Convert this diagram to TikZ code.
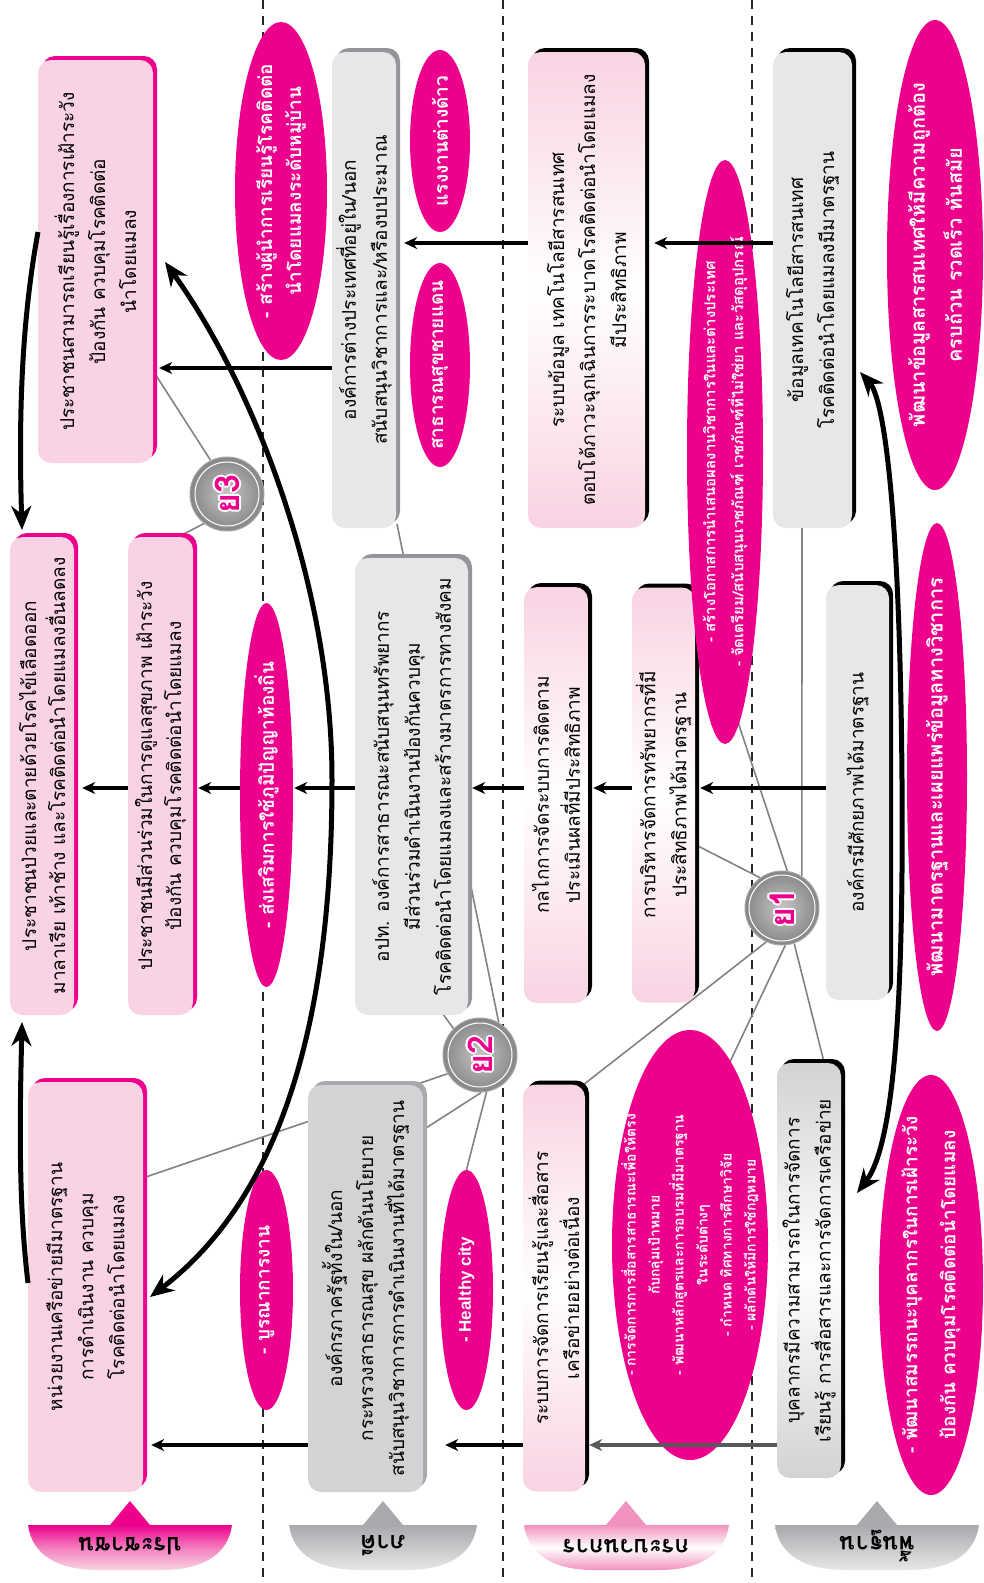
\documentclass[tikz,border=0pt]{standalone}
\usepackage{fontspec}
\setmainfont{Loma}[Script=Thai]
\newfontfamily\latinsf{Liberation Sans}
\usetikzlibrary{arrows.meta,shapes.geometric,shadows}
\definecolor{mag}{HTML}{EC008C}
\definecolor{lpink}{HTML}{F9D3E3}
\definecolor{mpink}{HTML}{F192BE}
\definecolor{lgray}{HTML}{E6E7E8}
\definecolor{mgray}{HTML}{D1D3D4}
\definecolor{dgray}{HTML}{A7A9AC}
\definecolor{sgray}{HTML}{939598}
\definecolor{lngray}{HTML}{808285}
\definecolor{agray}{HTML}{58595B}
\pgfdeclarelayer{bg}
\pgfsetlayers{bg,main}
\tikzset{
  bx/.style={rectangle, rounded corners=13pt, inner sep=0pt},
  pbx/.style={bx, fill=lpink, drop shadow={shadow xshift=4pt,shadow yshift=4pt,fill=mag,opacity=1}},
  gbx/.style={bx, fill=lgray, drop shadow={shadow xshift=4pt,shadow yshift=4pt,fill=sgray,opacity=1}},
  kbx/.style={bx, fill=lgray, drop shadow={shadow xshift=4pt,shadow yshift=4pt,fill=black,opacity=1}},
  cbx/.style={bx, top color=lpink, bottom color=lpink, middle color=white, drop shadow={shadow xshift=4pt,shadow yshift=4pt,fill=black,opacity=1}},
  wbx/.style={bx, top color=mgray, bottom color=mgray, middle color=white, drop shadow={shadow xshift=4pt,shadow yshift=4pt,fill=black,opacity=1}},
  dbx/.style={bx, fill=mgray, drop shadow={shadow xshift=4pt,shadow yshift=4pt,fill=dgray,opacity=1}},
  txt/.style={rotate=90, align=center, inner sep=0pt, font=\fontsize{19}{31}\selectfont},
  ell/.style={ellipse, fill=mag, inner sep=0pt},
  etx/.style={rotate=90, align=center, inner sep=0pt, text=white, font=\bfseries\fontsize{19}{29}\selectfont},
  stx/.style={etx, font=\bfseries\fontsize{15}{28}\selectfont},
  btx/.style={etx, font=\bfseries\fontsize{14}{24}\selectfont},
  badge/.style={circle, minimum size=74pt, inner sep=0pt, inner color=gray!45, outer color=gray!95, draw=gray!70, line width=1pt},
  bdt/.style={rotate=90, inner sep=0pt, text=mag, font=\bfseries\fontsize{34}{34}\selectfont},
  bdo/.style={bdt, text=white},
  lbl/.style={rotate=180, inner sep=0pt, font=\bfseries\fontsize{24}{24}\selectfont},
  arr/.style={line width=3.2pt, -{Stealth[length=13pt,width=12pt]}},
  big/.style={line width=5pt, -{Stealth[length=24pt,width=20pt]}},
  bigd/.style={line width=5pt, {Stealth[length=24pt,width=20pt]}-{Stealth[length=24pt,width=20pt]}},
  gl/.style={draw=lngray, line width=1.6pt},
  sep/.style={line width=2.2pt, dash pattern=on 9pt off 7pt, black!85}
}
\begin{document}
\begin{tikzpicture}[x=1pt,y=-1pt]
\useasboundingbox (0,0) rectangle (984,1583);

% ---------- column 1 : people
\node[ell, minimum width=92pt, minimum height=338pt] (EA0) at (281,191) {};
\node[etx] (EA0t) at (EA0) {- สร้างผู้นำการเรียนรู้โรคติดต่อ\\นำโดยแมลงระดับหมู่บ้าน};
\node[pbx, minimum width=115pt, minimum height=403pt] (A1) at (95.5,261.5) {};
\node[txt] (A1t) at (A1) {ประชาชนสามารถเรียนรู้เรื่องการเฝ้าระวัง\\ป้องกัน ควบคุมโรคติดต่อ\\นำโดยแมลง};
\node[pbx, minimum width=64pt, minimum height=478pt] (A2) at (42,776) {};
\node[txt, font=\fontsize{19}{29}\selectfont] (A2t) at (A2) {ประชาชนป่วยและตายด้วยโรคไข้เลือดออก\\มาลาเรีย เท้าช้าง และโรคติดต่อนำโดยแมลงอื่นลดลง};
\node[pbx, minimum width=65pt, minimum height=478pt] (A3) at (160.5,776) {};
\node[txt, font=\fontsize{19}{29}\selectfont] (A3t) at (A3) {ประชาชนมีส่วนร่วมในการดูแลสุขภาพ เฝ้าระวัง\\ป้องกัน ควบคุมโรคติดต่อนำโดยแมลง};
\node[pbx, minimum width=115pt, minimum height=410pt] (A4) at (85.5,1287) {};
\node[txt] (A4t) at (A4) {หน่วยงานเครือข่ายมีมาตรฐาน\\การดำเนินงาน ควบคุม\\โรคติดต่อนำโดยแมลง};
\node[ell, minimum width=53pt, minimum height=384pt] (EA1) at (266.5,795) {};
\node[etx] (EA1t) at (EA1) {- ส่งเสริมการใช้ภูมิปัญญาท้องถิ่น};
\node[ell, minimum width=53pt, minimum height=240pt] (EA4) at (266.5,1290) {};
\node[etx] (EA4t) at (EA4) {- บูรณาการงาน};

% ---------- column 2 : partners
\node[gbx, minimum width=64pt, minimum height=476pt] (B1) at (364,290) {};
\node[txt] (B1t) at (B1) {องค์การต่างประเทศที่อยู่ใน/นอก\\สนับสนุนวิชาการและ/หรืองบประมาณ};
\node[ell, minimum width=60pt, minimum height=182pt] (EB1) at (440,141) {};
\node[etx] (EB1t) at (EB1) {แรงงานต่างด้าว};
\node[ell, minimum width=60pt, minimum height=204pt] (EB2) at (440,365) {};
\node[etx] (EB2t) at (EB2) {สาธารณสุขชายแดน};
\node[gbx, minimum width=113pt, minimum height=457pt] (B2) at (411.5,786.5) {};
\node[txt] (B2t) at (B2) {อปท. องค์การสาธารณะสนับสนุนทรัพยากร\\มีส่วนร่วมดำเนินงานป้องกันควบคุม\\โรคติดต่อนำโดยแมลงและสร้างมาตรการทางสังคม};
\node[dbx, minimum width=115pt, minimum height=407pt] (B3) at (365.5,1288.5) {};
\node[txt] (B3t) at (B3) {องค์กรภาครัฐทั้งใน/นอก\\กระทรวงสาธารณสุข ผลักดันนโยบาย\\สนับสนุนวิชาการการดำเนินงานที่ได้มาตรฐาน};
\node[ell, minimum width=53pt, minimum height=240pt] (EB3) at (466.5,1290) {};
\node[etx, font=\latinsf\bfseries\fontsize{17}{20}\selectfont] (EB3t) at (EB3) {- Healthy city};

% ---------- column 3 : process
\node[cbx, minimum width=117pt, minimum height=476pt] (C1) at (586.5,290) {};
\node[txt] (C1t) at (C1) {ระบบข้อมูล เทคโนโลยีสารสนเทศ\\ตอบโต้ภาวะฉุกเฉินการระบาดโรคติดต่อนำโดยแมลง\\มีประสิทธิภาพ};
\node[cbx, minimum width=64pt, minimum height=416pt] (C2) at (556,795) {};
\node[txt] (C2t) at (C2) {กลไกการจัดระบบการติดตาม\\ประเมินผลที่มีประสิทธิภาพ};
\node[cbx, minimum width=63pt, minimum height=415pt] (C3) at (663.5,795) {};
\node[txt] (C3t) at (C3) {การบริหารจัดการทรัพยากรที่มี\\ประสิทธิภาพได้มาตรฐาน};
\node[ell, minimum width=76pt, minimum height=584pt] (EC1) at (725,452) {};
\node[stx] (EC1t) at (EC1) {- สร้างโอกาสการนำเสนอผลงานวิชาการในและต่างประเทศ\\- จัดเตรียม/สนับสนุนเวชภัณฑ์ เวชภัณฑ์ที่ไม่ใช่ยา และวัสดุอุปกรณ์};
\node[cbx, minimum width=62pt, minimum height=407pt] (C4) at (554,1288) {};
\node[txt] (C4t) at (C4) {ระบบการจัดการเรียนรู้และสื่อสาร\\เครือข่ายอย่างต่อเนื่อง};
\node[ell, minimum width=156pt, minimum height=430pt] (EC4) at (690,1245) {};
\node[btx] (EC4t) at (EC4) {- การจัดการการสื่อสารสาธารณะเพื่อให้ตรง\\กับกลุ่มเป้าหมาย\\- พัฒนาหลักสูตรและการอบรมที่มีมาตรฐาน\\ในระดับต่างๆ\\- กำหนด ทิศทางการศึกษาวิจัย\\- ผลักดันให้มีการใช้กฎหมาย};

% ---------- column 4 : foundation
\node[kbx, minimum width=79pt, minimum height=476pt] (D1) at (812.5,290) {};
\node[txt] (D1t) at (D1) {ข้อมูลเทคโนโลยีสารสนเทศ\\โรคติดต่อนำโดยแมลงมีมาตรฐาน};
\node[ell, minimum width=96pt, minimum height=470pt] (ED1) at (935,255) {};
\node[etx, font=\bfseries\fontsize{20}{37}\selectfont] (ED1t) at (ED1) {พัฒนาข้อมูลสารสนเทศให้มีความถูกต้อง\\ครบถ้วน รวดเร็ว ทันสมัย};
\node[kbx, minimum width=63pt, minimum height=415pt] (D2) at (857.5,792.5) {};
\node[txt] (D2t) at (D2) {องค์กรมีศักยภาพได้มาตรฐาน};
\node[ell, minimum width=60pt, minimum height=508pt] (ED2) at (937,777) {};
\node[etx, font=\bfseries\fontsize{20}{29}\selectfont] (ED2t) at (ED2) {พัฒนามาตรฐานและเผยแพร่ข้อมูลทางวิชาการ};
\node[wbx, minimum width=64pt, minimum height=415pt] (D3) at (809,1270.5) {};
\node[txt] (D3t) at (D3) {บุคลากรมีความสามารถในการจัดการ\\เรียนรู้ การสื่อสารและการจัดการเครือข่าย};
\node[ell, minimum width=104pt, minimum height=420pt] (ED3) at (931,1285) {};
\node[etx, font=\bfseries\fontsize{19}{38}\selectfont] (ED3t) at (ED3) {- พัฒนาสมรรถนะบุคลากรในการเฝ้าระวัง\\ป้องกัน ควบคุมโรคติดต่อนำโดยแมลง};

% ---------- badges (magenta label with white outline)
\node[badge] (Y3) at (227,494) {};
\draw[white, line width=1pt] (Y3) circle (32);
\foreach \a in {0,45,...,315} \node[bdo] (Y3o\a) at ([shift={(\a:2pt)}]Y3) {ย3};
\node[bdt] (Y3t) at (Y3) {ย3};
\node[badge] (Y2) at (480,1055) {};
\draw[white, line width=1pt] (Y2) circle (32);
\foreach \a in {0,45,...,315} \node[bdo] (Y2o\a) at ([shift={(\a:2pt)}]Y2) {ย2};
\node[bdt] (Y2t) at (Y2) {ย2};
\node[badge] (Y1) at (782,908) {};
\draw[white, line width=1pt] (Y1) circle (33);
\foreach \a in {0,45,...,315} \node[bdo] (Y1o\a) at ([shift={(\a:2pt)}]Y1) {ย1};
\node[bdt] (Y1t) at (Y1) {ย1};

% ---------- attach points
\coordinate (r1) at (0,243);
\coordinate (r1b) at (0,368);
\coordinate (r2) at (0,788);
\coordinate (r3) at (0,1445);
\coordinate (a1p) at (150,366);
\coordinate (a3p) at (178,537);
\coordinate (b1p) at (397,524);
\coordinate (b2p) at (440,1010);
\coordinate (a4p) at (140,1179);
\coordinate (b3p) at (426,1128);
\coordinate (c3p) at (696,845);
\coordinate (ec1p) at (738,722);
\coordinate (d1p) at (802,524);
\coordinate (c4p) at (583,1085);
\coordinate (ec4p) at (728,1066);
\coordinate (d3p) at (824,1062);

% ---------- background: separators and badge links
\begin{pgfonlayer}{bg}
\draw[sep] (263,0) -- (263,1583);
\draw[sep] (503,0) -- (503,1583);
\draw[sep] (752,0) -- (752,1583);
\draw[gl] (Y3.116) -- (a1p);
\draw[gl] (Y3.232) -- (a3p);
\draw[gl] (Y2.60) -- (b1p);
\draw[gl] (Y2.135) -- (b2p);
\draw[gl] (Y2.210) -- (a4p);
\draw[gl] (Y2.272) -- (b3p);
\draw[gl] (Y2.280) -- (EB3.north);
\draw[gl] (Y1.126) -- (c3p);
\draw[gl] (Y1.82) -- (ec1p);
\draw[gl] (Y1.58) -- (d1p);
\draw[gl] (Y1.245) -- (c4p);
\draw[gl] (Y1.275) -- (ec4p);
\draw[gl] (Y1.289) -- (d3p);
\end{pgfonlayer}

% ---------- horizontal arrows
\draw[arr, shorten >=9pt] (D1.west |- r1) -- (C1.east |- r1);
\draw[arr, shorten >=8pt] (C1.west |- r1) -- (B1.east |- r1);
\draw[arr, shorten >=6pt] (B1.west |- r1b) -- (A1.east |- r1b);
\draw[arr, shorten >=5pt] (D2.west |- r2) -- (C3.east |- r2);
\draw[arr, shorten >=5pt] (C3.west |- r2) -- (C2.east |- r2);
\draw[arr, shorten >=4pt] (C2.west |- r2) -- (B2.east |- r2);
\draw[arr, shorten >=1pt] (B2.west |- r2) -- (EA1.east |- r2);
\draw[arr, shorten >=5pt] (EA1.west |- r2) -- (A3.east |- r2);
\draw[arr, shorten >=8pt] (A3.west |- r2) -- (A2.east |- r2);
\draw[arr, agray, shorten >=4pt] (D3.west |- r3) -- (C4.east |- r3);
\draw[arr, shorten >=22pt] (C4.west |- r3) -- (B3.east |- r3);
\draw[arr, shorten >=8pt] (B3.west |- r3) -- (A4.east |- r3);

% ---------- big curved arrows
\coordinate (s1) at (38,232);
\coordinate (e1) at (22,530);
\draw[big] (s1) .. controls (20,330) and (19,430) .. (e1);
\coordinate (s2) at (28,1283);
\coordinate (e2) at (22,1022);
\draw[big] (s2) .. controls (18,1200) and (20,1110) .. (e2);
\coordinate (la1) at (165,262);
\coordinate (lam) at (332,780);
\coordinate (la2) at (150,1297);
\draw[bigd] (la1) .. controls (250,380) and (332,580) .. (lam) .. controls (332,1000) and (290,1190) .. (la2);
\coordinate (ra1) at (860,372);
\coordinate (ram) at (902,780);
\coordinate (ra2) at (857,1193);
\draw[bigd] (ra1) .. controls (885,400) and (900,520) .. (ram) .. controls (904,1040) and (890,1150) .. (ra2);

% ---------- perspective labels
\fill[mag] (110,1525) -- (130,1501) -- (150,1525) -- cycle;
\shade[top color=mag, bottom color=lpink, middle color=lpink!60!mag] (28,1525) -- (232,1525) .. controls (228,1555) and (202,1570) .. (162,1570) -- (98,1570) .. controls (58,1570) and (32,1555) .. (28,1525) -- cycle;
\node[lbl] (L1) at (130,1546) {ประชาชน};
\fill[dgray] (363,1525) -- (383,1501) -- (403,1525) -- cycle;
\shade[top color=dgray, bottom color=lgray] (289,1525) -- (477,1525) .. controls (473,1555) and (447,1570) .. (407,1570) -- (359,1570) .. controls (319,1570) and (293,1555) .. (289,1525) -- cycle;
\node[lbl] (L2) at (383,1546) {ภาคี};
\fill[mpink] (606,1525) -- (626,1501) -- (646,1525) -- cycle;
\shade[top color=mpink, bottom color=mpink, middle color=white] (524,1525) -- (729,1525) .. controls (725,1555) and (699,1570) .. (659,1570) -- (594,1570) .. controls (554,1570) and (528,1555) .. (524,1525) -- cycle;
\node[lbl] (L3) at (626,1546) {กระบวนการ};
\fill[dgray] (857,1525) -- (877,1501) -- (897,1525) -- cycle;
\shade[top color=dgray, bottom color=lgray] (775,1525) -- (979,1525) .. controls (975,1555) and (949,1570) .. (909,1570) -- (845,1570) .. controls (805,1570) and (779,1555) .. (775,1525) -- cycle;
\node[lbl] (L4) at (877,1546) {พื้นฐาน};
\end{tikzpicture}
\end{document}
